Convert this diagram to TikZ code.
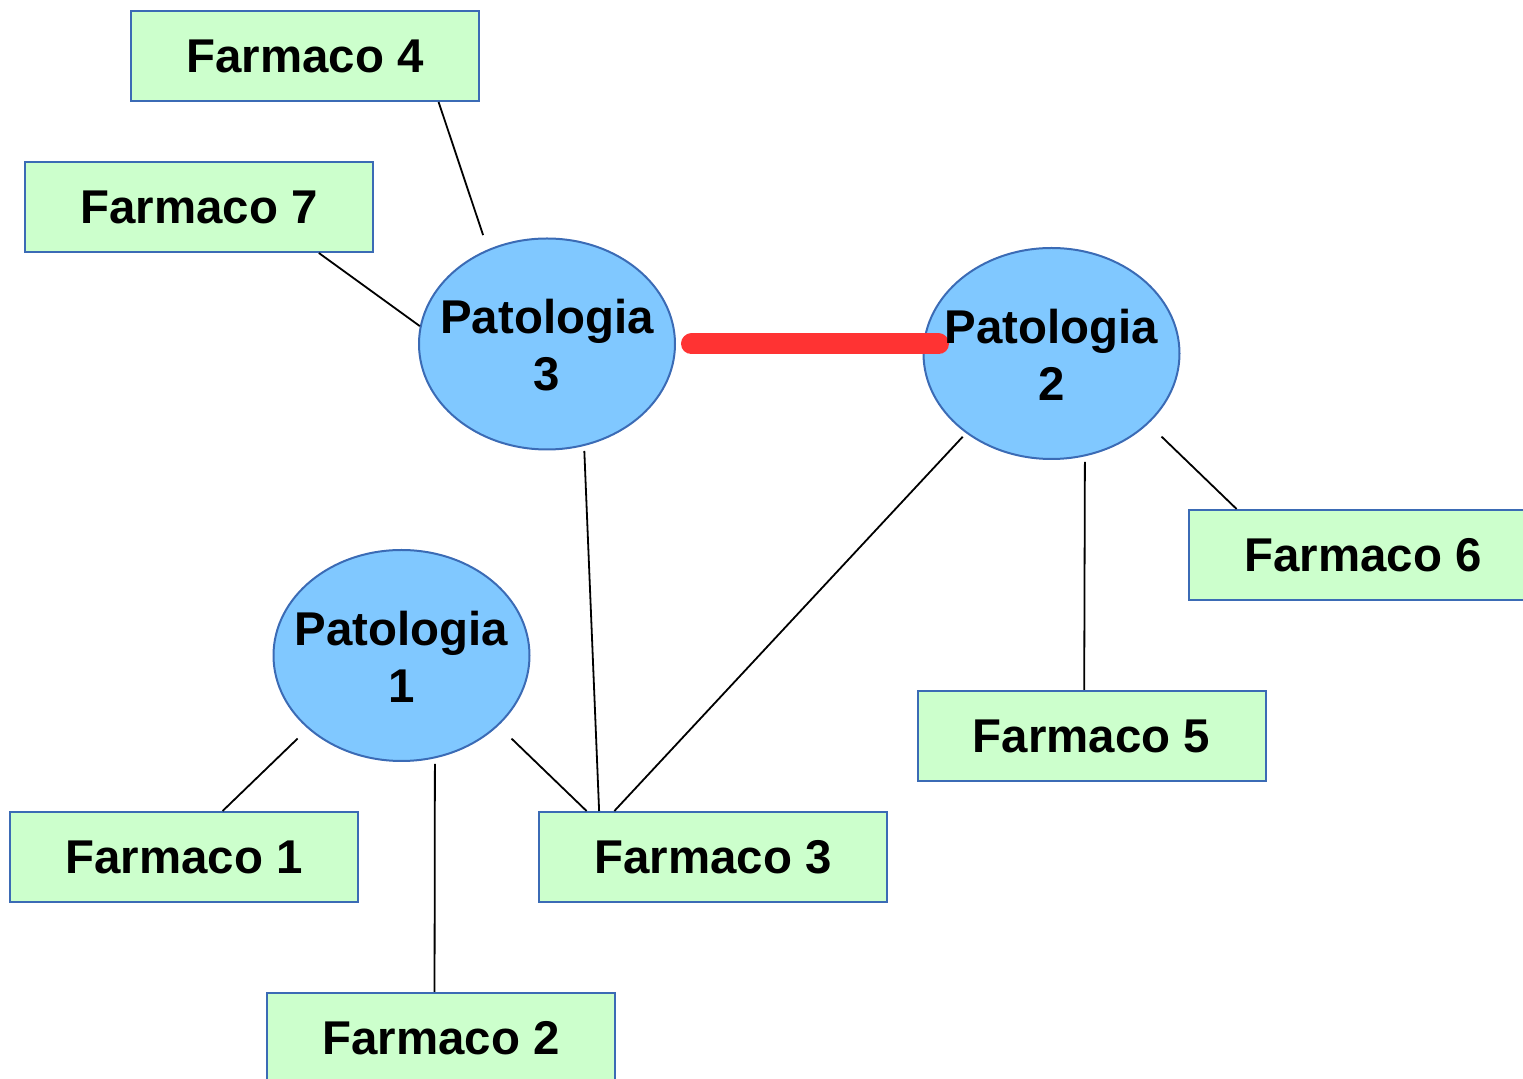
\documentclass[tikz,border=0pt]{standalone}
\usepackage{fontspec}
\setmainfont{Liberation Sans}
\usetikzlibrary{shapes.geometric}
\definecolor{mint}{HTML}{CCFFCC}
\definecolor{sky}{HTML}{80C8FF}
\definecolor{edge}{HTML}{3B6BB5}
\definecolor{hot}{HTML}{FF3333}

\begin{document}
\begin{tikzpicture}[x=0.5pt,y=-0.5pt,box/.style={draw=edge,line width=1pt,fill=mint,minimum width=174pt,minimum height=45pt,font=\fontsize{23.7}{28.5}\selectfont\bfseries},ell/.style={ellipse,draw=edge,line width=1pt,fill=sky,minimum width=128pt,minimum height=105.5pt,inner sep=0pt},lbl/.style={align=center,inner sep=0pt,yshift=-0.5pt,font=\fontsize{23.7}{28.5}\selectfont\bfseries},lnk/.style={line width=0.9pt},hotlnk/.style={line width=10.5pt,draw=hot,line cap=round}]
\useasboundingbox (0,0) rectangle (1523,1079);
\node[box] (far4) at (305,56) {Farmaco 4};
\node[box] (far7) at (199,207) {Farmaco 7};
\node[box] (far6) at (1363,555) {Farmaco 6};
\node[box] (far5) at (1091.5,736) {Farmaco 5};
\node[box] (far1) at (184,857) {Farmaco 1};
\node[box] (far3) at (713,857) {Farmaco 3};
\node[box] (far2) at (441,1038) {Farmaco 2};
\node[ell] (pat3) at (547,344) {};
\node[ell] (pat2) at (1051.5,353.5) {};
\node[ell] (pat1) at (401.5,655.5) {};
\draw[hotlnk,shorten <=7.75pt,shorten >=-8pt] (pat3.east)--(pat3.east -| pat2.west);
\node[lbl] (pat3t) at (pat3) {Patologia\\3};
\node[lbl] (pat2t) at (pat2) {Patologia\\2};
\node[lbl] (pat1t) at (pat1) {Patologia\\1};
\draw[lnk,shorten >=7.5pt](far4.-19.6)--(pat3.122.7);\draw[lnk](far7.-21.5)--(pat3.172.9);\draw[lnk,shorten <=2.5pt](pat3.-70.3)--(far3.158.5);
\draw[lnk,shorten <=2.4pt](pat2.223)--(far3.155.3);\draw[lnk,shorten <=2.7pt](pat2.-72.9)--(far5.99.5);\draw[lnk,shorten <=9.2pt](pat2.-36.9)--(far6.160.6);
\draw[lnk,shorten <=7.1pt](pat1.218.5)--(far1.50.6);\draw[lnk,shorten <=2.7pt](pat1.-72.8)--(far2.98.6);\draw[lnk,shorten <=9.2pt](pat1.-36.9)--(far3.160.6);
\end{tikzpicture}
\end{document}
